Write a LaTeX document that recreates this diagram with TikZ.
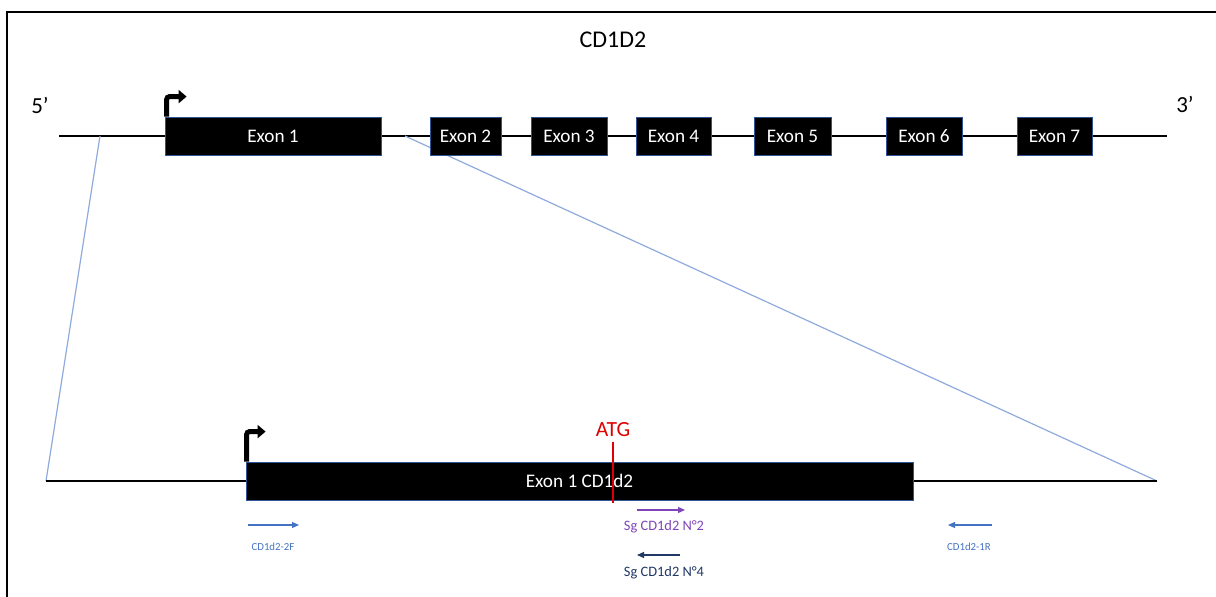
\documentclass[tikz,border=0pt]{standalone}
\usepackage{fontspec}
\setmainfont{Carlito}
\usepackage{xcolor}
\usetikzlibrary{arrows.meta, positioning}

\definecolor{zoomblue}{HTML}{8FAADC}
\definecolor{primerblue}{HTML}{4472C4}
\definecolor{sgpurple}{HTML}{7F45B8}
\definecolor{sgnavy}{HTML}{1F3864}
\definecolor{atgred}{HTML}{E00000}
\definecolor{boxedge}{HTML}{2F5597}

\begin{document}
\begin{tikzpicture}[
    x=0.5pt, y=-0.5pt,
    exon/.style={draw=boxedge, line width=0.4pt, fill=black, text=white, inner sep=0pt, minimum height=19pt, font=\fontsize{9.6}{11}\selectfont},
    backbone/.style={line width=1pt, black},
    zoomline/.style={zoomblue, line width=0.6pt},
    promoter/.style={-{Triangle[length=4pt,width=6.5pt]}, line width=2.5pt, rounded corners=1.5pt, black},
    primer/.style={-{Triangle[length=3.5pt,width=3pt]}, line width=0.6pt},
    primerlabel/.style={font=\fontsize{5.4}{6}\selectfont, text=primerblue, inner sep=0pt},
    sglabel/.style={font=\fontsize{7.2}{8}\selectfont, inner sep=0pt},
    endlabel/.style={font=\fontsize{11.5}{13}\selectfont, inner sep=0pt}
]
\useasboundingbox (0,0) rectangle (1216,597);

% Frame (top and left edges only)
\draw[line width=1.2pt] (7,597) -- (7,12) -- (1216,12);

% Title and strand ends
\node[font=\fontsize{12}{14}\selectfont, inner sep=0pt] (title) at (613,40) {CD1D2};
\node[endlabel] (five_prime)  at (40,105)   {5’};
\node[endlabel] (three_prime) at (1185,104) {3’};

% Gene backbone
\coordinate (gene_start) at (59,136);
\coordinate (gene_end)   at (1167,136);
\draw[backbone] (gene_start) -- (gene_end);

% Zoom lines down to the exon 1 detail
\coordinate (zoom_left)   at (100,136);
\coordinate (zoom_right)  at (405,136);
\coordinate (detail_start) at (46,481);
\coordinate (detail_end)   at (1157,481);
\draw[zoomline] (zoom_left) -- (detail_start);
\draw[zoomline] (zoom_right) -- (detail_end);
\draw[backbone] (detail_start) -- (detail_end);

% Exons of the gene
\node[exon, minimum width=108pt]  (exon1) at (273,136)    {Exon 1};
\node[exon, minimum width=35.5pt] (exon2) at (465.5,136)  {Exon 2};
\node[exon, minimum width=38pt]   (exon3) at (569,136)    {Exon 3};
\node[exon, minimum width=37.5pt] (exon4) at (673.5,136)  {Exon 4};
\node[exon, minimum width=38.5pt] (exon5) at (792.5,136)  {Exon 5};
\node[exon, minimum width=38pt]   (exon6) at (924,136)    {Exon 6};
\node[exon, minimum width=37.5pt] (exon7) at (1054.5,136) {Exon 7};

% Exon 1 detail
\node[exon, minimum width=333.5pt] (exon1_big) at (579.5,481) {Exon 1 CD1d2};

% Promoter arrows
\draw[promoter] ([xshift=1pt]exon1.north west) |- ++(20,-20);
\draw[promoter] ([xshift=0.5pt]exon1_big.north west) |- ++(19,-30);

% ATG mark
\node[font=\fontsize{10.8}{12}\selectfont, text=atgred, inner sep=0pt] (atg) at (613,430) {ATG};
\coordinate (atg_top)    at (613,442);
\coordinate (atg_bottom) at (613,503);
\draw[draw=atgred, line width=0.6pt] (atg_top) -- (atg_bottom);

% Primers
\coordinate (fwd_start) at (248,525);
\coordinate (fwd_end)   at (299,525);
\draw[primer, primerblue] (fwd_start) -- (fwd_end);
\node[primerlabel] (fwd_label) at (273,547) {CD1d2-2F};

\coordinate (rev_start) at (992,525);
\coordinate (rev_end)   at (948,525);
\draw[primer, primerblue] (rev_start) -- (rev_end);
\node[primerlabel] (rev_label) at (969,547) {CD1d2-1R};

% Guide RNAs
\coordinate (sg2_start) at (637,510);
\coordinate (sg2_end)   at (685,510);
\draw[primer, sgpurple] (sg2_start) -- (sg2_end);
\node[sglabel, text=sgpurple] (sg2_label) at (664,527) {Sg CD1d2 N°2};

\coordinate (sg4_start) at (680,555);
\coordinate (sg4_end)   at (637,555);
\draw[primer, sgnavy] (sg4_start) -- (sg4_end);
\node[sglabel, text=sgnavy] (sg4_label) at (664,573) {Sg CD1d2 N°4};

\end{tikzpicture}
\end{document}
